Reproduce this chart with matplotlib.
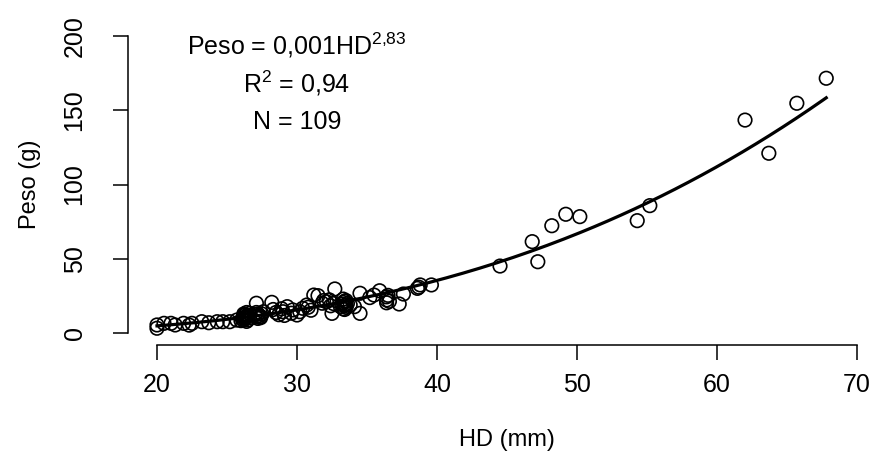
import numpy as np
import matplotlib
matplotlib.use("Agg")
import matplotlib.pyplot as plt

plt.rcParams.update({
    "font.family": ["Liberation Sans", "DejaVu Sans"],
    "mathtext.fontset": "custom",
    "mathtext.rm": "Liberation Sans",
    "mathtext.it": "Liberation Sans:italic",
    "mathtext.bf": "Liberation Sans:bold",
})

# HD (mm) and Peso (g)
hd = [67.8, 65.7, 62.0, 63.7, 55.2, 54.3, 49.2, 50.2, 48.2, 46.8,
      47.2, 44.5, 39.6, 38.7, 38.8, 38.6, 37.6, 37.3, 36.4, 36.4,
      36.4, 35.9, 35.5, 34.5, 34.5, 34.1, 33.8, 33.3, 33.4, 33.3,
      33.5, 32.7, 32.5, 32.1, 31.8, 31.5, 31.2, 30.7, 30.4, 30.0,
      29.7, 29.3, 29.0, 29.1, 28.2, 27.6, 27.4, 27.1, 27.1, 27.2,
      26.6, 26.2, 26.2, 26.2, 26.4, 26.3, 25.7, 25.2, 24.7, 24.3,
      23.7, 23.2, 22.5, 22.3, 21.9, 21.3, 21.0, 20.5, 20.0, 20.0,
      26.1, 26.3, 26.4, 26.5, 26.2, 26.6, 26.3, 26.5, 26.0, 26.4,
      27.3, 27.2, 27.5, 27.0, 27.4, 27.1, 28.5, 28.7, 28.3, 28.9,
      29.6, 30.2, 30.8, 31.0, 33.2, 33.4, 33.5, 33.3, 33.6, 33.1,
      33.5, 33.4, 32.3, 32.6, 32.4, 31.9, 36.6, 36.5, 35.2]
peso = [171.4, 154.6, 143.3, 121.0, 85.8, 75.7, 80.0, 78.4, 72.3, 61.6,
        48.1, 45.2, 32.5, 31.0, 32.5, 30.2, 26.4, 19.7, 22.4, 20.5,
        24.5, 28.6, 25.7, 26.9, 13.4, 17.9, 19.0, 20.7, 18.5, 16.5,
        22.0, 29.8, 13.4, 21.2, 20.2, 25.3, 25.7, 19.0, 16.8, 12.3,
        15.7, 17.9, 14.5, 12.0, 20.8, 14.5, 11.2, 20.2, 11.0, 13.0,
        13.4, 10.3, 8.9, 12.0, 14.0, 11.0, 8.9, 7.8, 7.8, 7.8,
        7.1, 7.8, 6.7, 5.5, 6.7, 5.6, 6.7, 6.7, 5.6, 3.4,
        9.5, 10.0, 11.5, 9.0, 13.0, 10.5, 12.5, 12.0, 8.5, 8.0,
        12.0, 10.0, 13.0, 12.5, 10.5, 14.0, 14.0, 12.5, 16.0, 16.5,
        13.5, 14.5, 17.5, 15.5, 19.5, 21.5, 17.5, 23.0, 20.0, 18.0,
        19.0, 16.0, 22.5, 20.0, 18.5, 22.0, 21.5, 25.5, 24.0]

# fitted power model as drawn (coefficient shown rounded in the label)
coef_a = 0.00104
coef_b = 2.83
x_ticks = [20, 30, 40, 50, 60, 70]
y_ticks = [0, 50, 100, 150, 200]
label_lines = [r"Peso = 0,001HD$^{2{,}83}$", r"R$^2$ = 0,94", "N = 109"]

W, H = 873, 465
fig = plt.figure(figsize=(W / 100, H / 100), dpi=100)
ax = fig.add_axes([128 / W, (H - 345) / H, (W - 128) / W, (345 - 23.8) / H])

ax.scatter(hd, peso, s=95, facecolors="none", edgecolors="black", linewidths=1.2, zorder=2)
xs = np.linspace(min(hd), max(hd), 200)
ax.plot(xs, coef_a * xs ** coef_b, color="black", lw=2.3, zorder=3)

ax.set_xlim(17.93, 71.14)
ax.set_ylim(-7.86, 208.0)
for s in ("top", "right"):
    ax.spines[s].set_visible(False)
ax.spines["bottom"].set_bounds(20, 70)
ax.spines["left"].set_bounds(0, 200)
ax.spines["bottom"].set_linewidth(1.1)
ax.spines["left"].set_linewidth(1.1)
ax.set_xticks(x_ticks)
ax.set_yticks(y_ticks)
ax.tick_params(axis="both", direction="out", length=10.8, width=1.1, labelsize=18)
ax.tick_params(axis="x", pad=9)
ax.tick_params(axis="y", pad=19, labelrotation=90)
for lbl in ax.get_yticklabels():
    lbl.set_va("center")

fig.text(507 / W, 1 - 440 / H, "HD (mm)", ha="center", va="center", fontsize=17)
fig.text(30 / W, 1 - 184.5 / H, "Peso (g)", ha="center", va="center", rotation=90, fontsize=17)

for txt, yb in zip(label_lines, [187.7, 161.5, 137.3]):
    ax.text(30.0, yb, txt, ha="center", va="baseline", fontsize=18)

fig.savefig("out.png", dpi=100)
